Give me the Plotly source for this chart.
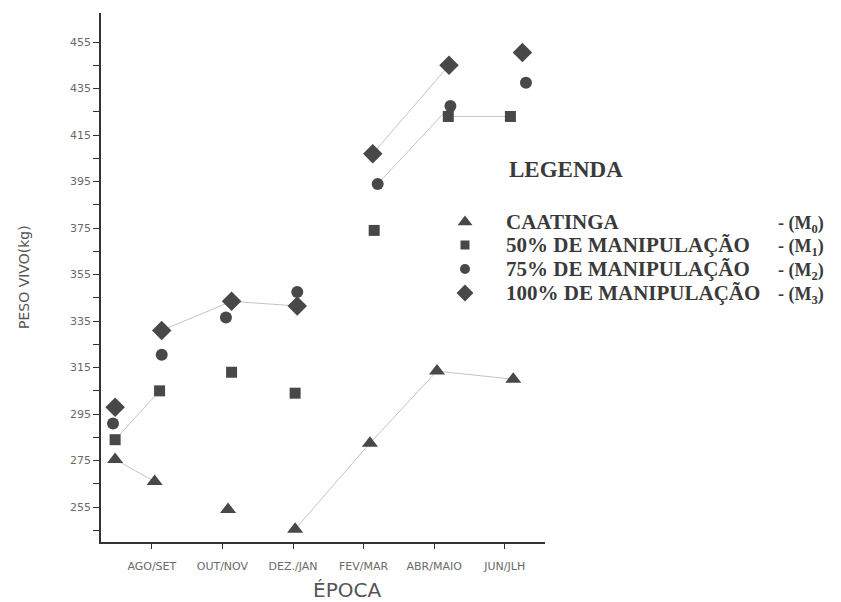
import plotly.graph_objects as go

# Categories (x tick labels)
categories = ["AGO/SET", "OUT/NOV", "DEZ./JAN", "FEV/MAR", "ABR/MAIO", "JUN/JLH"]

# Series names
names = ["CAATINGA", "50% DE MANIPULAÇÃO", "75% DE MANIPULAÇÃO", "100% DE MANIPULAÇÃO"]
codes = ["- (M<sub>0</sub>)", "- (M<sub>1</sub>)", "- (M<sub>2</sub>)", "- (M<sub>3</sub>)"]

# Sampling times (in category units; first is the initial weighing)
x_m0 = [-0.52, 0.04, 1.08, 2.03, 3.09, 4.04, 5.12]
x_m1 = [-0.52, 0.11, 1.13, 2.03, 3.15, 4.20, 5.08]
x_m2 = [-0.55, 0.14, 1.05, 2.06, 3.20, 4.23, 5.30]
x_m3 = [-0.52, 0.14, 1.13, 2.06, 3.13, 4.21, 5.25]

# Live weight (kg)
y_m0 = [275.5, 266.0, 254.0, 245.5, 282.5, 313.5, 310.0]
y_m1 = [284.0, 305.0, 313.0, 304.0, 374.0, 423.0, 423.0]
y_m2 = [291.0, 320.5, 336.5, 347.5, 394.0, 427.5, 437.5]
y_m3 = [298.0, 331.0, 343.5, 341.5, 407.0, 445.0, 450.5]

# Connected segments visible in the original (pairs of point indices)
seg_m0 = [(0, 1), (3, 4), (4, 5), (5, 6)]
seg_m1 = [(0, 1), (5, 6)]
seg_m2 = [(4, 5)]
seg_m3 = [(1, 2), (2, 3), (4, 5)]

xs = [x_m0, x_m1, x_m2, x_m3]
ys = [y_m0, y_m1, y_m2, y_m3]
segs = [seg_m0, seg_m1, seg_m2, seg_m3]
symbols = ["triangle-up", "square", "circle", "diamond"]
sizes = [14, 11, 12, 15]
mcolor = "#484848"

# page offset (browser body margin) and figure geometry, in screen pixels
OFF = 8
W, H = 841 - OFF, 602 - OFF
SL, SR, ST, SB = 101, 545, 13, 542          # plot area on screen
L, R, T, B = SL - OFF, SR - OFF, ST - OFF, SB - OFF


def px(xs_):
    return (xs_ - SL) / (SR - SL)


def py(ys_):
    return (SB - ys_) / (SB - ST)


fig = go.Figure()

# faint connecting lines
for x, y, sg in zip(xs, ys, segs):
    lx, ly = [], []
    for a, b in sg:
        lx += [x[a], x[b], None]
        ly += [y[a], y[b], None]
    fig.add_trace(go.Scatter(x=lx, y=ly, mode="lines", showlegend=False,
                             hoverinfo="skip",
                             line=dict(color="#c4c4c4", width=1)))

for x, y, n, s, sz in zip(xs, ys, names, symbols, sizes):
    fig.add_trace(go.Scatter(x=x, y=y, mode="markers", name=n, showlegend=False,
                             marker=dict(symbol=s, size=sz, color=mcolor,
                                         line=dict(width=0))))

# legend keys on a screen-pixel-mapped overlay axis
leg_sym_x = 465
leg_row_y = [222, 245, 269, 293]
leg_sizes = [13, 9, 10, 13]
for i, (n, s) in enumerate(zip(names, symbols)):
    fig.add_trace(go.Scatter(x=[leg_sym_x], y=[leg_row_y[i]], xaxis="x2", yaxis="y2",
                             mode="markers", name=n, showlegend=False, hoverinfo="skip",
                             marker=dict(symbol=s, size=leg_sizes[i], color=mcolor,
                                         line=dict(width=0))))

fig.update_layout(
    width=W, height=H,
    margin=dict(l=L, r=W - R, t=T, b=H - B),
    paper_bgcolor="white", plot_bgcolor="white",
    font=dict(family="DejaVu Sans", color="#555555"),
    showlegend=False,
    xaxis=dict(
        range=[-0.72, 5.57], tickmode="array", tickvals=list(range(len(categories))),
        ticktext=categories, showgrid=False, zeroline=False,
        showline=True, linecolor="#333333", linewidth=1.5,
        ticks="outside", ticklen=5, tickcolor="#333333",
        tickfont=dict(family="DejaVu Sans", size=11, color="#6a6a6a"),
        ticklabelstandoff=8,
    ),
    yaxis=dict(
        range=[240, 467.5], tickmode="array", tickvals=list(range(255, 456, 20)),
        showgrid=False, zeroline=False,
        showline=True, linecolor="#333333", linewidth=1.5,
        ticks="outside", ticklen=6, tickcolor="#333333",
        tickfont=dict(family="DejaVu Sans", size=11, color="#6a6a6a"),
        minor=dict(tickvals=list(range(245, 456, 20)), ticks="outside", ticklen=6,
                   tickcolor="#333333"),
    ),
    xaxis2=dict(overlaying="x", range=[SL, SR], visible=False, fixedrange=True),
    yaxis2=dict(overlaying="y", range=[SB, ST], visible=False, fixedrange=True),
)

# axis titles
fig.add_annotation(xref="paper", yref="paper", x=px(347), y=py(590),
                   xanchor="center", yanchor="middle", showarrow=False, text="ÉPOCA",
                   font=dict(family="DejaVu Sans", size=20, color="#555555"))
fig.add_annotation(xref="paper", yref="paper", x=px(24), y=py(277),
                   xanchor="center", yanchor="middle", showarrow=False, text="PESO VIVO(kg)",
                   textangle=-90, font=dict(family="DejaVu Sans", size=14, color="#555555"))

# legend texts
fig.add_annotation(xref="paper", yref="paper", x=px(507), y=py(170),
                   xanchor="left", yanchor="middle", showarrow=False, text="LEGENDA",
                   font=dict(family="Liberation Serif", size=23, color="#3a3a3a", weight="bold"))
for i, (n, c) in enumerate(zip(names, codes)):
    fig.add_annotation(xref="paper", yref="paper", x=px(504), y=py(leg_row_y[i]),
                       xanchor="left", yanchor="middle", showarrow=False, text=n,
                       font=dict(family="Liberation Serif", size=21, color="#3a3a3a", weight="bold"))
    fig.add_annotation(xref="paper", yref="paper", x=px(826), y=py(leg_row_y[i] + 2),
                       xanchor="right", yanchor="middle", showarrow=False, text=c,
                       font=dict(family="Liberation Serif", size=18, color="#3a3a3a", weight="bold"))

fig.write_html("out.html")
